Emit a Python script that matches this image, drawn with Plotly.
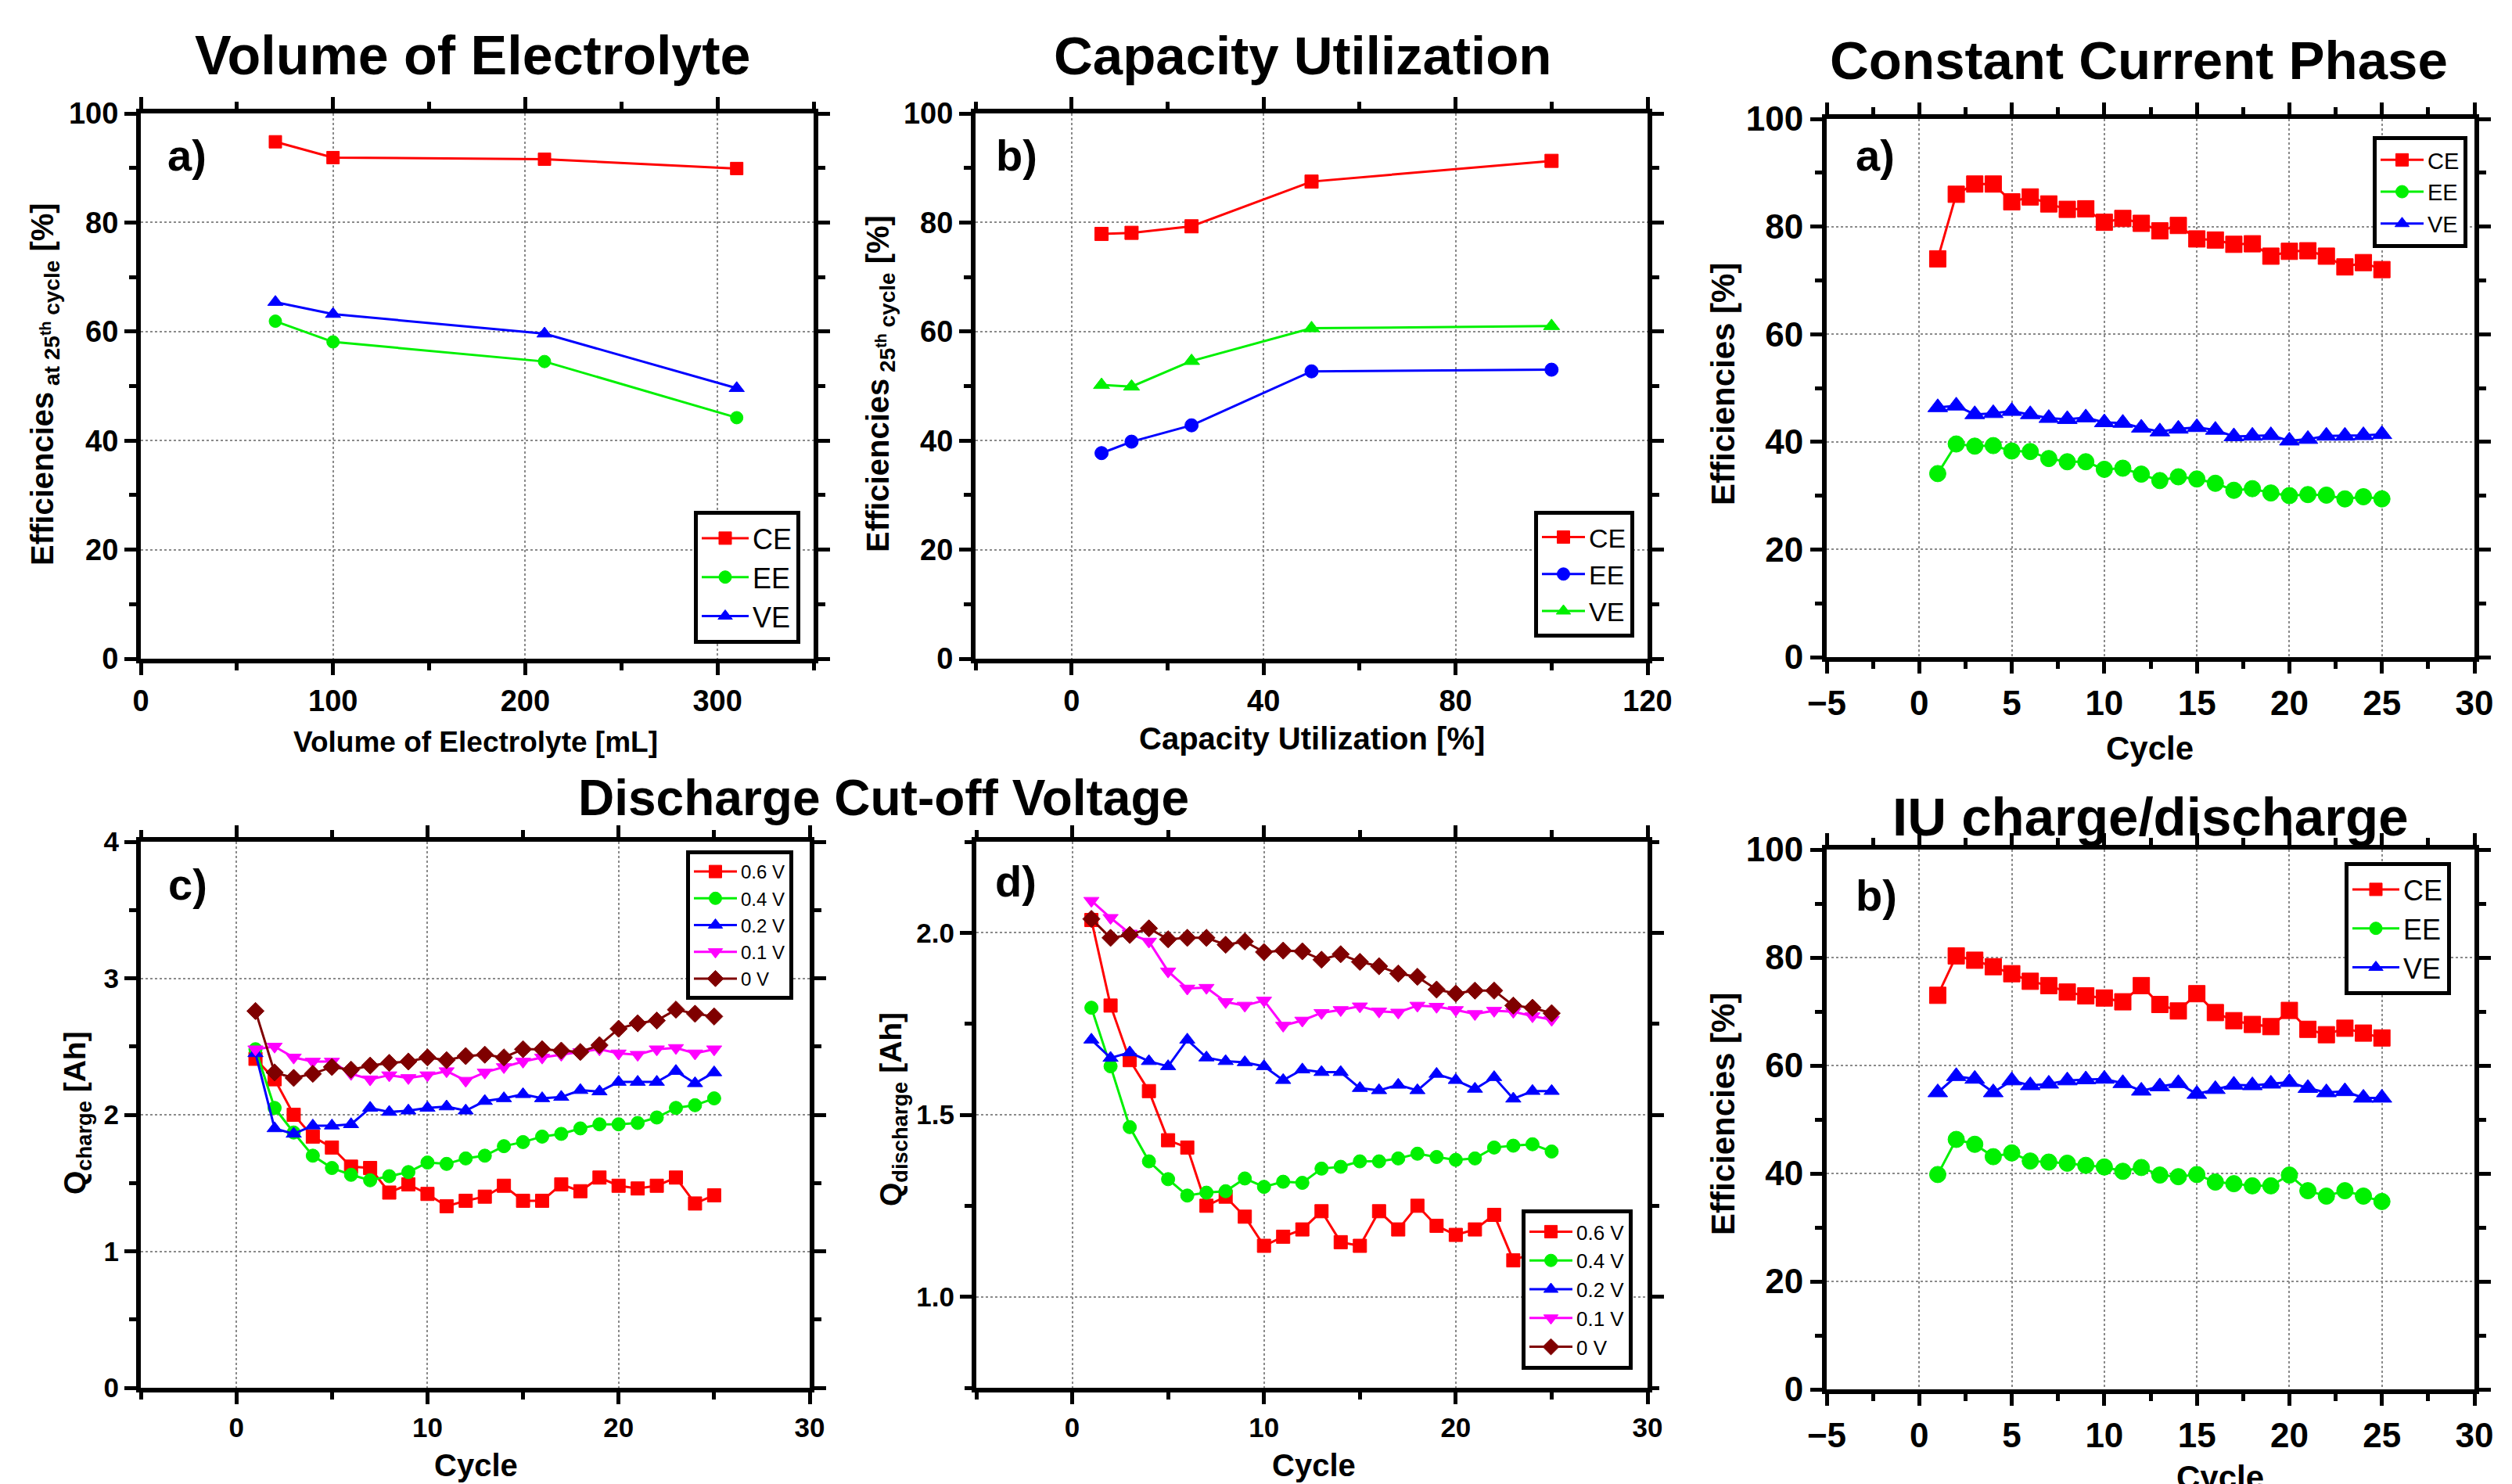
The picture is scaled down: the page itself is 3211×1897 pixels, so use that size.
import plotly.graph_objects as go

# ---------------- data ----------------
vol = [70, 100, 210, 310]
vol_CE = [94.8, 91.9, 91.6, 89.9]
vol_EE = [61.9, 58.1, 54.5, 44.2]
vol_VE = [65.4, 63.2, 59.6, 49.6]

cap = [6.25, 12.5, 25, 50, 100]
cap_CE = [77.9, 78.1, 79.3, 87.5, 91.3]
cap_EE = [37.7, 39.8, 42.8, 52.7, 53.0]
cap_VE = [50.2, 49.9, 54.6, 60.6, 61.0]

cycles = list(range(1, 26))

cc_CE = [74.0, 86.0, 87.9, 87.9, 84.6, 85.5, 84.2, 83.2, 83.3, 80.8, 81.5, 80.6, 79.2,
         80.2, 77.7, 77.5, 76.7, 76.8, 74.5, 75.4, 75.5, 74.5, 72.5, 73.3, 72.0]
cc_EE = [34.1, 39.6, 39.2, 39.3, 38.3, 38.2, 36.9, 36.3, 36.3, 34.9, 35.1, 34.0, 32.8,
         33.5, 33.1, 32.3, 31.0, 31.3, 30.5, 30.0, 30.2, 30.1, 29.4, 29.8, 29.4]
cc_VE = [46.4, 46.7, 45.1, 45.3, 45.7, 45.1, 44.4, 44.2, 44.5, 43.6, 43.5, 42.6, 41.9,
         42.4, 42.7, 42.2, 41.0, 41.1, 41.2, 40.2, 40.5, 41.1, 41.1, 41.2, 41.4]

iu_CE = [73.0, 80.3, 79.5, 78.3, 77.0, 75.6, 74.8, 73.6, 72.9, 72.5, 71.8, 74.8, 71.3,
         70.1, 73.3, 69.8, 68.3, 67.6, 67.2, 70.2, 66.7, 65.7, 66.9, 66.0, 65.1]
iu_EE = [39.8, 46.3, 45.4, 43.1, 43.8, 42.3, 42.1, 41.9, 41.5, 41.2, 40.4, 41.1, 39.7,
         39.4, 39.8, 38.4, 38.1, 37.7, 37.7, 39.7, 36.8, 35.8, 36.8, 35.8, 34.8]
iu_VE = [55.0, 58.0, 57.5, 55.0, 57.2, 56.3, 56.6, 57.2, 57.4, 57.5, 56.7, 55.3, 56.1,
         56.7, 54.7, 55.6, 56.4, 56.3, 56.6, 56.9, 55.8, 55.0, 55.2, 54.0, 54.0]

qc_06 = [2.41, 2.26, 2.00, 1.84, 1.76, 1.62, 1.61, 1.43, 1.49, 1.42, 1.33, 1.37, 1.40,
         1.48, 1.37, 1.37, 1.49, 1.44, 1.54, 1.48, 1.46, 1.48, 1.54, 1.35, 1.41]
qc_04 = [2.48, 2.05, 1.87, 1.70, 1.61, 1.56, 1.52, 1.55, 1.58, 1.65, 1.64, 1.68, 1.70,
         1.77, 1.80, 1.84, 1.86, 1.90, 1.93, 1.93, 1.94, 1.98, 2.05, 2.07, 2.12]
qc_02 = [2.45, 1.90, 1.86, 1.92, 1.92, 1.93, 2.05, 2.02, 2.03, 2.05, 2.06, 2.03, 2.10,
         2.12, 2.15, 2.12, 2.13, 2.18, 2.17, 2.24, 2.24, 2.24, 2.32, 2.23, 2.31]
qc_01 = [2.48, 2.50, 2.42, 2.39, 2.39, 2.30, 2.26, 2.29, 2.27, 2.29, 2.32, 2.25, 2.31,
         2.35, 2.39, 2.42, 2.44, 2.46, 2.48, 2.45, 2.44, 2.48, 2.49, 2.45, 2.48]
qc_00 = [2.76, 2.31, 2.27, 2.30, 2.35, 2.33, 2.36, 2.38, 2.39, 2.42, 2.40, 2.43, 2.44,
         2.42, 2.48, 2.48, 2.47, 2.46, 2.51, 2.63, 2.67, 2.69, 2.77, 2.74, 2.72]

qd_06 = [2.035, 1.80, 1.65, 1.565, 1.43, 1.41, 1.25, 1.275, 1.22, 1.14, 1.165, 1.185, 1.235,
         1.15, 1.14, 1.235, 1.185, 1.25, 1.195, 1.17, 1.185, 1.225, 1.10, 1.12, 1.21]
qd_04 = [1.794, 1.633, 1.466, 1.372, 1.323, 1.278, 1.286, 1.29, 1.325, 1.302, 1.316, 1.313, 1.352,
         1.357, 1.372, 1.372, 1.38, 1.393, 1.384, 1.376, 1.38, 1.41, 1.415, 1.419, 1.399]
qd_02 = [1.706, 1.656, 1.671, 1.647, 1.633, 1.706, 1.657, 1.647, 1.644, 1.633, 1.595, 1.624, 1.617,
         1.617, 1.573, 1.567, 1.582, 1.567, 1.612, 1.595, 1.571, 1.603, 1.544, 1.565, 1.565]
qd_01 = [2.088, 2.041, 1.998, 1.976, 1.894, 1.847, 1.849, 1.81, 1.80, 1.814, 1.745, 1.759, 1.78,
         1.788, 1.798, 1.784, 1.781, 1.80, 1.797, 1.788, 1.777, 1.786, 1.783, 1.771, 1.761]
qd_00 = [2.038, 1.986, 1.994, 2.012, 1.982, 1.986, 1.986, 1.967, 1.976, 1.947, 1.951, 1.949, 1.926,
         1.941, 1.92, 1.908, 1.888, 1.879, 1.844, 1.833, 1.841, 1.841, 1.80, 1.794, 1.779]

volt_labels = ["0.6 V", "0.4 V", "0.2 V", "0.1 V", "0 V"]

# ---------------- layout helpers ----------------
PAGE_W, PAGE_H = 3211, 1897
OFF = 8                       # default page body margin
W, H = PAGE_W - OFF, PAGE_H - OFF
FONT = "Liberation Sans, Arial, sans-serif"

def fx(p):
    return (p - OFF) / W

def fy(p):
    return 1 - (p - OFF) / H

# pixel boxes on the page (left, right, top, bottom)
boxes = {
    1: (180, 1040, 145, 842),
    2: (1247, 2106, 145, 842),
    3: (2335, 3163, 152, 840),
    4: (180, 1035, 1076, 1774),
    5: (1248, 2106, 1076, 1774),
    6: (2335, 3163, 1086, 1776),
}

RED, GREEN, BLUE, MAG, DRED = "#FF0000", "#00F000", "#0000FF", "#FF00FF", "#7F0000"

fig = go.Figure()

def add(i, x, y, name, color, symbol, size, lw=3):
    ax = "" if i == 1 else str(i)
    fig.add_trace(go.Scatter(
        x=x, y=y, name=name, mode="lines+markers",
        xaxis="x" + ax, yaxis="y" + ax, legend="legend" + ax,
        line=dict(color=color, width=lw),
        marker=dict(color=color, symbol=symbol, size=size, line=dict(color=color, width=1)),
        showlegend=True,
    ))

add(1, vol, vol_CE, "CE", RED, "square", 16)
add(1, vol, vol_EE, "EE", GREEN, "circle", 16)
add(1, vol, vol_VE, "VE", BLUE, "triangle-up", 17)

add(2, cap, cap_CE, "CE", RED, "square", 17)
add(2, cap, cap_EE, "EE", BLUE, "circle", 17)
add(2, cap, cap_VE, "VE", GREEN, "triangle-up", 18)

add(3, cycles, cc_CE, "CE", RED, "square", 21)
add(3, cycles, cc_EE, "EE", GREEN, "circle", 21)
add(3, cycles, cc_VE, "VE", BLUE, "triangle-up", 22)

qc = [qc_06, qc_04, qc_02, qc_01, qc_00]
qd = [qd_06, qd_04, qd_02, qd_01, qd_00]
vcols = [RED, GREEN, BLUE, MAG, DRED]
vsyms = ["square", "circle", "triangle-up", "triangle-down", "diamond"]
for lab, ys, c, s in zip(volt_labels, qc, vcols, vsyms):
    add(4, cycles, ys, lab, c, s, 17)
for lab, ys, c, s in zip(volt_labels, qd, vcols, vsyms):
    add(5, cycles, ys, lab, c, s, 17)

add(6, cycles, iu_CE, "CE", RED, "square", 21)
add(6, cycles, iu_EE, "EE", GREEN, "circle", 21)
add(6, cycles, iu_VE, "VE", BLUE, "triangle-up", 22)


def axis(rng, dtick, tick0, minor_dtick, fsize, fmt=None):
    d = dict(
        range=rng, dtick=dtick, tick0=tick0, tickmode="linear",
        showline=True, linecolor="black", linewidth=6, mirror="ticks",
        ticks="outside", ticklen=15, tickwidth=5, tickcolor="black",
        showgrid=True, gridcolor="#8a8a8a", griddash="dot", gridwidth=2,
        zeroline=False, fixedrange=True, automargin=False,
        tickfont=dict(family=FONT, size=fsize, color="black", weight="bold"),
        minor=dict(ticks="outside", ticklen=9, tickwidth=5, tickcolor="black",
                   dtick=minor_dtick, tick0=tick0, showgrid=False),
    )
    if fmt:
        d["tickformat"] = fmt
    return d

axes_spec = {
    1: (dict(rng=[0, 350], dtick=100, tick0=0, minor_dtick=50, fsize=38),
        dict(rng=[0, 100], dtick=20, tick0=0, minor_dtick=10, fsize=38)),
    2: (dict(rng=[-20, 120], dtick=40, tick0=0, minor_dtick=20, fsize=38),
        dict(rng=[0, 100], dtick=20, tick0=0, minor_dtick=10, fsize=38)),
    3: (dict(rng=[-5, 30], dtick=5, tick0=0, minor_dtick=2.5, fsize=44),
        dict(rng=[0, 100], dtick=20, tick0=0, minor_dtick=10, fsize=44)),
    4: (dict(rng=[-5, 30], dtick=10, tick0=0, minor_dtick=5, fsize=35),
        dict(rng=[0, 4], dtick=1, tick0=0, minor_dtick=0.5, fsize=35)),
    5: (dict(rng=[-5, 30], dtick=10, tick0=0, minor_dtick=5, fsize=35),
        dict(rng=[0.75, 2.25], dtick=0.5, tick0=0, minor_dtick=0.25, fsize=35, fmt=".1f")),
    6: (dict(rng=[-5, 30], dtick=5, tick0=0, minor_dtick=2.5, fsize=44),
        dict(rng=[0, 100], dtick=20, tick0=0, minor_dtick=10, fsize=44)),
}

layout = dict(width=W, height=H, autosize=False, template="none",
              margin=dict(l=0, r=0, t=0, b=0, autoexpand=False),
              paper_bgcolor="white", plot_bgcolor="white",
              font=dict(family=FONT, color="black"))

for i, (l, r, t, b) in boxes.items():
    ax = "" if i == 1 else str(i)
    xs, ysp = axes_spec[i]
    xa = axis(**xs)
    ya = axis(**ysp)
    xa.update(domain=[fx(l), fx(r)], anchor="y" + ax)
    ya.update(domain=[fy(b), fy(t)], anchor="x" + ax)
    layout["xaxis" + ax] = xa
    layout["yaxis" + ax] = ya

def legend(x, y, xanchor, yanchor, size, iw=40):
    return dict(x=fx(x), y=fy(y), xanchor=xanchor, yanchor=yanchor,
                bgcolor="white", bordercolor="black", borderwidth=5,
                font=dict(family=FONT, size=size, color="black"),
                tracegroupgap=0, itemwidth=iw)

layout["legend"] = legend(1023, 823, "right", "bottom", 36, 60)
layout["legend2"] = legend(2089, 815, "right", "bottom", 34, 55)
layout["legend3"] = legend(3154, 174, "right", "top", 29, 55)
layout["legend4"] = legend(1014, 1087, "right", "top", 24, 55)
layout["legend5"] = legend(2087, 1751, "right", "bottom", 26, 55)
layout["legend6"] = legend(3133, 1102, "right", "top", 36, 60)

fig.update_layout(**layout)

anns = []
def text(x, y, s, size, angle=0, xanchor="center", yanchor="middle", bold=True):
    anns.append(dict(x=fx(x), y=fy(y), xref="paper", yref="paper", text=s,
                     showarrow=False, textangle=angle, xanchor=xanchor, yanchor=yanchor,
                     font=dict(family=FONT, size=size, color="black",
                               weight="bold" if bold else "normal")))

# panel titles
text(604, 71, "Volume of Electrolyte", 70)
text(1665, 71, "Capacity Utilization", 69)
text(2734, 77, "Constant Current Phase", 69)
text(1129, 1020, "Discharge Cut-off Voltage", 64)
text(2749, 1044, "IU charge/discharge", 69)

# panel letters
text(212, 198, "a)", 56, xanchor="left")
text(1271, 198, "b)", 56, xanchor="left")
text(2370, 198, "a)", 56, xanchor="left")
text(213, 1130, "c)", 56, xanchor="left")
text(1270, 1126, "d)", 56, xanchor="left")
text(2370, 1144, "b)", 56, xanchor="left")

# x axis titles
text(608, 948, "Volume of Electrolyte [mL]", 37)
text(1677, 944, "Capacity Utilization [%]", 40)
text(2748, 956, "Cycle", 42)
text(608, 1873, "Cycle", 40)
text(1679, 1873, "Cycle", 40)
text(2838, 1888, "Cycle", 42)

# y axis titles
text(57, 491, "Efficiencies<sub> at 25<sup>th</sup> cycle</sub> [%]", 40, angle=-90)
text(1125, 491, "Efficiencies<sub> 25<sup>th</sup> cycle</sub> [%]", 40, angle=-90)
text(2202, 491, "Efficiencies [%]", 42, angle=-90)
text(98, 1423, "Q<sub>charge</sub> [Ah]", 39, angle=-90)
text(1141, 1418, "Q<sub>discharge</sub> [Ah]", 39, angle=-90)
text(2202, 1424, "Efficiencies [%]", 42, angle=-90)

fig.update_layout(annotations=anns)
fig.write_html("out.html")
